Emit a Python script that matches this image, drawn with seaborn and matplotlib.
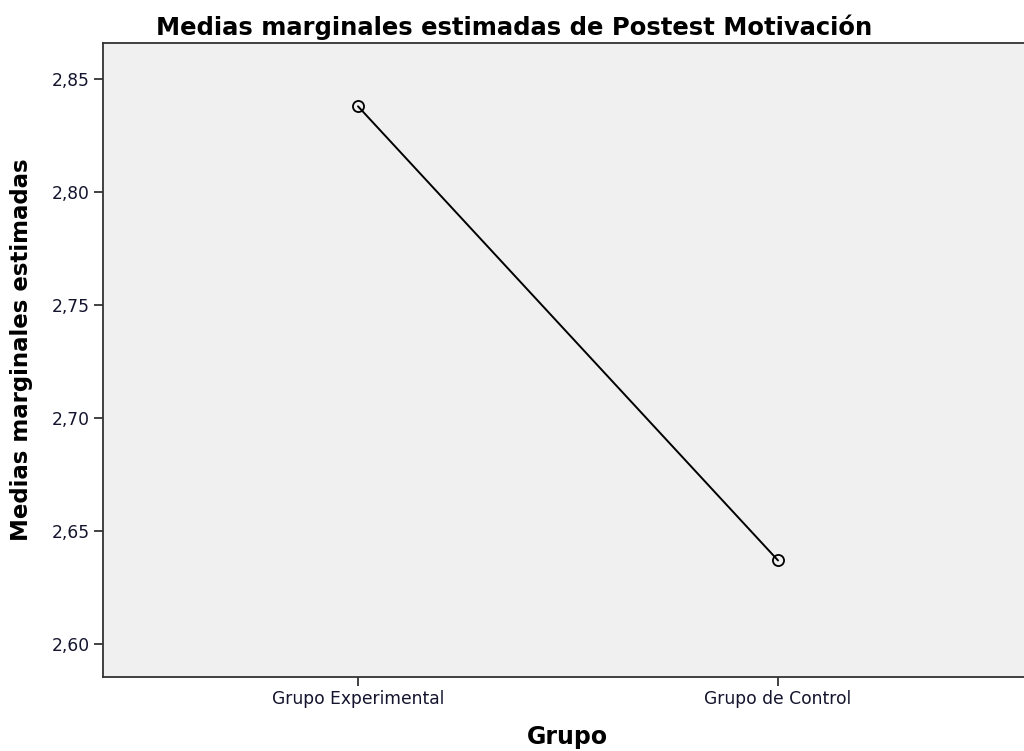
import pandas as pd
import matplotlib.pyplot as plt
import seaborn as sns

# ---------------------
# Data
# ---------------------
grupos = ["Grupo Experimental", "Grupo de Control"]
medias = [2.838, 2.637]
y_ticks = [2.60, 2.65, 2.70, 2.75, 2.80, 2.85]
y_tick_labels = ["2,60", "2,65", "2,70", "2,75", "2,80", "2,85"]

df = pd.DataFrame({"Grupo": grupos, "Media": medias})

# ---------------------
# Plot
# ---------------------
sns.set_style("white")
plt.rcParams["font.family"] = ["DejaVu Sans"]

fig = plt.figure(figsize=(10.24, 7.51), dpi=100)
ax = fig.add_axes([0.1006, 0.0985, 0.9082, 0.8442])
ax.set_facecolor("#f0f0f0")

sns.lineplot(data=df, x="Grupo", y="Media", ax=ax, color="black", linewidth=1.4,
             marker="o", markersize=8, markerfacecolor="none",
             markeredgecolor="black", markeredgewidth=1.3, sort=False)

ax.set_xlim(-0.607, 1.607)
ax.set_ylim(2.5854, 2.866)
ax.set_yticks(y_ticks)
ax.set_yticklabels(y_tick_labels)

for side in ["left", "bottom", "top"]:
    ax.spines[side].set_color("#333333")
    ax.spines[side].set_linewidth(1.3)
ax.spines["right"].set_visible(False)

ax.tick_params(axis="both", which="both", length=6.5, width=1.3, color="#333333",
               labelsize=12.3, labelcolor="#14142e", direction="out",
               left=True, bottom=True, pad=3)

ax.set_xlabel("")
ax.set_ylabel("")

# titles / axis labels placed in figure pixels like the SPSS output
fig.text(514 / 1024, 1 - 35 / 751, "Medias marginales estimadas de Postest Motivación",
         fontsize=17.5, fontweight="bold", ha="center", va="baseline", color="black")
fig.text(567 / 1024, 1 - 737 / 751, "Grupo",
         fontsize=17, fontweight="bold", ha="center", va="center", color="black")
fig.text(22 / 1024, 1 - 350 / 751, "Medias marginales estimadas", rotation=90,
         fontsize=16.5, fontweight="bold", ha="center", va="center", color="black")

fig.savefig("out.png", dpi=100, facecolor="white")
